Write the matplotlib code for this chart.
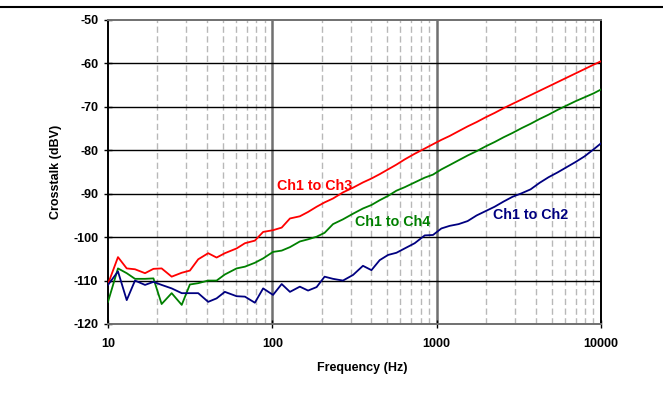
import matplotlib
matplotlib.use("Agg")
import matplotlib.pyplot as plt
from matplotlib.lines import Line2D

plt.rcParams['font.family'] = ['Liberation Sans', 'DejaVu Sans']
plt.rcParams['axes.unicode_minus'] = False

freq = [10, 11.5, 13, 14.6, 16.8, 18.9, 21.2, 24.4, 28.1, 31.5, 35.4, 40.7, 45.8, 51.4,
        60.6, 68.1, 78.3, 87.9, 101, 114, 128, 147, 165, 186, 208, 234, 269, 310, 356,
        401, 450, 506, 569, 639, 735, 846, 950, 1068, 1200, 1360, 1543, 1751, 1986,
        2252, 2555, 2897, 3287, 3727, 4228, 4797, 5440, 6170, 7000, 7940, 9003, 10000]

ch3 = [-110.8, -104.6, -107.2, -107.4, -108.3, -107.3, -107.2, -109.1, -108.2, -107.7,
       -105.1, -103.7, -104.7, -103.7, -102.6, -101.4, -100.8, -98.8, -98.4, -97.8,
       -95.7, -95.2, -94.2, -93.0, -92.0, -91.1, -89.7, -88.6, -87.4, -86.5, -85.5,
       -84.4, -83.3, -82.1, -80.8, -79.6, -78.6, -77.6, -76.7, -75.6, -74.5, -73.5,
       -72.4, -71.4, -70.3, -69.3, -68.3, -67.3, -66.3, -65.3, -64.3, -63.3, -62.3,
       -61.3, -60.3, -59.5]

ch4 = [-114.9, -107.2, -108.3, -109.6, -109.6, -109.5, -115.4, -112.9, -115.6, -110.9,
       -110.6, -110.0, -110.0, -108.6, -107.2, -106.8, -105.9, -104.9, -103.4, -103.1,
       -102.3, -101.0, -100.5, -99.9, -99.0, -97.0, -95.9, -94.6, -93.4, -92.6, -91.5,
       -90.5, -89.3, -88.5, -87.4, -86.3, -85.6, -84.4, -83.4, -82.3, -81.2, -80.2,
       -79.1, -78.1, -77.0, -76.0, -74.9, -73.9, -72.8, -71.8, -70.7, -69.7, -68.7,
       -67.8, -66.9, -66.0]

ch2 = [-111.0, -107.9, -114.5, -110.0, -111.0, -110.3, -111.0, -111.8, -112.9, -112.9,
       -112.9, -114.9, -114.1, -112.6, -113.6, -113.7, -115.1, -111.8, -113.3, -110.8,
       -112.6, -111.4, -112.3, -111.5, -109.1, -109.6, -110.0, -108.7, -106.6, -107.6,
       -105.3, -104.1, -103.6, -102.6, -101.4, -99.6, -99.5, -98.0, -97.4, -97.0,
       -96.3, -95.0, -94.0, -93.0, -91.8, -90.7, -89.9, -89.0, -87.5, -86.2, -85.1,
       -83.9, -82.7, -81.4, -79.8, -78.4]

fig = plt.figure(figsize=(6.63, 4.17), dpi=100)
ax = fig.add_axes([108/663, 1-324/417, (601-108)/663, (324-20)/417])

ax.set_xscale('log')
ax.set_xlim(10, 10000)
ax.set_ylim(-120, -50)

# grid
for f in [20, 30, 40, 50, 60, 70, 80, 90]:
    for d in [1, 10, 100]:
        ax.axvline(f*d, color='#b8b8b8', lw=1.0, dashes=(4.5, 2.5), zorder=1)
for f in [100, 1000]:
    ax.axvline(f, color='#707070', lw=1.8, zorder=1)
for y in range(-110, -50, 10):
    ax.axhline(y, color='black', lw=1.0, zorder=1)

ax.plot(freq, ch3, color='#ff0000', lw=1.3, zorder=3)
ax.plot(freq, ch4, color='#008000', lw=1.3, zorder=3)
ax.plot(freq, ch2, color='#000080', lw=1.3, zorder=3)

ax.text(180, -88.3, 'Ch1 to Ch3', color='#ff0000', fontsize=10.3, fontweight='bold',
        ha='center', va='center')
ax.text(540, -96.6, 'Ch1 to Ch4', color='#008000', fontsize=10.3, fontweight='bold',
        ha='center', va='center')
ax.text(3750, -94.9, 'Ch1 to Ch2', color='#000080', fontsize=10.3, fontweight='bold',
        ha='center', va='center')

for s in ['left', 'right']:
    ax.spines[s].set_color('black')
    ax.spines[s].set_linewidth(1.4)
for s in ['top', 'bottom']:
    ax.spines[s].set_color('#707070')
    ax.spines[s].set_linewidth(1.4)

ax.set_xticks([10, 100, 1000, 10000])
ax.set_xticklabels(['10', '100', '1000', '10000'])
ax.xaxis.set_minor_locator(matplotlib.ticker.NullLocator())
ax.set_yticks(range(-120, -49, 10))
ax.tick_params(axis='both', direction='inout', length=6, width=1, labelsize=9, colors='black')
ax.tick_params(axis='x', pad=7)
ax.tick_params(axis='y', pad=4)
for lbl in ax.get_xticklabels() + ax.get_yticklabels():
    lbl.set_fontweight('bold')

ax.set_xlabel('Frequency (Hz)', fontsize=9, fontweight='bold')
ax.set_ylabel('Crosstalk (dBV)', fontsize=9, fontweight='bold')
ax.xaxis.set_label_coords(0.515, -0.125)
ax.yaxis.set_label_coords(-0.093, 0.5)

fig.add_artist(Line2D([0, 1], [1-7/417, 1-7/417], color='black', lw=1.5))

fig.savefig('out.png', dpi=100)
